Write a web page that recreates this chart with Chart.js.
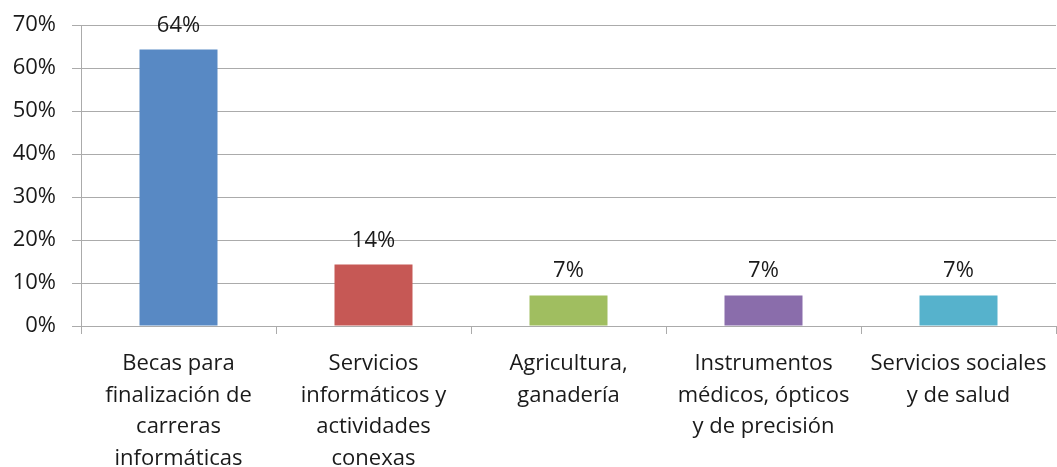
<!DOCTYPE html>
<html>
<head>
<meta charset="utf-8">
<script src="https://cdn.jsdelivr.net/npm/chart.js@4/dist/chart.umd.min.js"></script>
<style>
  html, body { margin:0; padding:0; background:#fff; }
  #wrap { width:1057px; height:467px; }
</style>
</head>
<body>
<div id="wrap"><canvas id="barChart" width="1057" height="467"></canvas></div>
<script>
// Chart data
const categories = [
    ['Becas para', 'finalización de', 'carreras', 'informáticas'],
    ['Servicios', 'informáticos y', 'actividades', 'conexas'],
    ['Agricultura,', 'ganadería'],
    ['Instrumentos', 'médicos, ópticos', 'y de precisión'],
    ['Servicios sociales', 'y de salud']
];
const values = [64.3, 14.3, 7.1, 7.1, 7.1];
const barColors = ['#5889C4', '#C65855', '#A0BE60', '#8A6DAB', '#56B2CC'];
const yTicks = [0, 10, 20, 30, 40, 50, 60, 70];

const FONT = '"Open Sans", "Noto Sans", sans-serif';

// Value labels above each bar
const valueLabels = {
    id: 'valueLabels',
    afterDatasetsDraw(chart) {
        const ctx = chart.ctx;
        const meta = chart.getDatasetMeta(0);
        ctx.save();
        ctx.font = '22px ' + FONT;
        ctx.fillStyle = '#1a1a1a';
        ctx.textAlign = 'center';
        ctx.textBaseline = 'alphabetic';
        meta.data.forEach((bar, i) => {
            ctx.fillText(Math.round(values[i]) + '%', bar.x, bar.y - 18);
        });
        ctx.restore();
    }
};

// keep the plot area fixed, no automatic label padding
function noPad(scale) {
    scale.paddingTop = 0; scale.paddingBottom = 0;
    scale.paddingLeft = 0; scale.paddingRight = 0;
}

function initChart() {
    const ctx = document.getElementById('barChart').getContext('2d');
    new Chart(ctx, {
        type: 'bar',
        data: {
            labels: categories,
            datasets: [{ data: values, backgroundColor: barColors, borderWidth: 0,
                         categoryPercentage: 1, barPercentage: 0.4 }]
        },
        options: {
            responsive: false,
            animation: false,
            layout: { padding: { top: 25, right: 1, left: 0, bottom: 0 } },
            plugins: { legend: { display: false }, tooltip: { enabled: false } },
            scales: {
                x: {
                    grid: { offset: true, drawOnChartArea: false, color: '#ABABAB', tickLength: 8, lineWidth: 1 },
                    border: { color: '#ABABAB' },
                    ticks: { color: '#1a1a1a', font: { family: FONT, size: 22, lineHeight: 1.44 }, maxRotation: 0, autoSkip: false, padding: 14 },
                    afterFit(scale) { scale.height = 141; noPad(scale); }
                },
                y: {
                    min: 0, max: 70,
                    afterBuildTicks(scale) { scale.ticks = yTicks.map(v => ({ value: v })); },
                    grid: { color: '#ABABAB', tickLength: 9 },
                    border: { color: '#ABABAB' },
                    ticks: { color: '#1a1a1a', font: { family: FONT, size: 22 }, padding: 16,
                             callback: v => v + '%' },
                    afterFit(scale) { scale.width = 81; noPad(scale); }
                }
            }
        },
        plugins: [valueLabels]
    });
}

window.onload = () => { initChart(); };
</script>
</body>
</html>
